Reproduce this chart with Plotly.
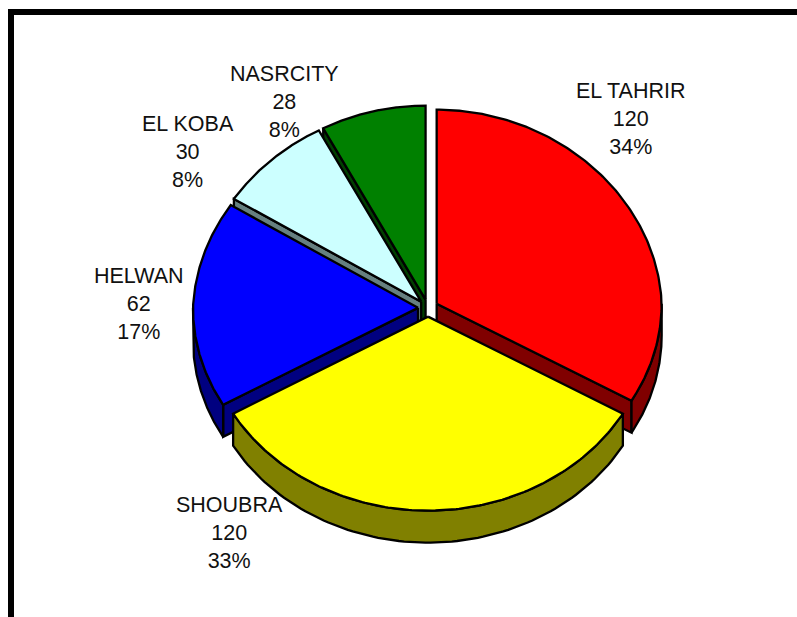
import numpy as np
import plotly.graph_objects as go

categories = ["EL TAHRIR", "SHOUBRA", "HELWAN", "EL KOBA", "NASRCITY"]
values = [120, 120, 62, 30, 28]
percent_labels = ["34%", "33%", "17%", "8%", "8%"]
top_colors = ["#FF0000", "#FFFF00", "#0000FF", "#CCFFFF", "#008000"]
side_colors = ["#800000", "#808000", "#000080", "#668080", "#004000"]
label_x = [631, 229, 138.5, 187.5, 284]
label_y = [119, 533, 304, 152, 102]

# pie geometry, in axis units (the axes span the page 1:1)
CX, CY, RX, RY, DEPTH, PULL, TAPER = 428, 308, 225, 194, 32, 10, 0.035
W, H = 797, 617
FONT = "Liberation Sans, Arial, sans-serif"

total = sum(values)
edges = np.concatenate([[0], np.cumsum(values)]) * 360.0 / total


def rim(cx, cy, deg, drop=0.0):
    r = np.radians(deg)
    # the far side of the tilted disc is drawn slightly narrower
    return cx + RX * np.sin(r) * (1 - TAPER * np.maximum(np.cos(r), 0)), cy - RY * np.cos(r) + drop


def poly(fig, xs, ys, color, name):
    fig.add_trace(go.Scatter(
        x=list(xs), y=list(ys), mode="lines", fill="toself", fillcolor=color,
        line=dict(color="black", width=2.3), name=name, hoverinfo="skip", showlegend=False,
    ))


fig = go.Figure()
for i in [4, 3, 2, 0, 1]:  # back to front
    a0, a1 = edges[i], edges[i + 1]
    mid = np.radians((a0 + a1) / 2)
    cx = CX + PULL * np.sin(mid)
    cy = CY - PULL * RY / RX * np.cos(mid)
    name = categories[i]
    # radial face that looks towards the viewer
    edge = a0 if np.sin(np.radians(a0)) < -1e-9 else (a1 if np.sin(np.radians(a1)) > 1e-9 else None)
    if edge is not None:
        ex, ey = rim(cx, cy, edge)
        poly(fig, [cx, ex, ex, cx, cx], [cy, ey, ey + DEPTH, cy + DEPTH, cy], side_colors[i], name + " face")
    # outer wall
    lo, hi = max(a0, 90), min(a1, 270)
    if hi > lo:
        t = np.linspace(lo, hi, 90)
        x1, y1 = rim(cx, cy, t)
        x2, y2 = rim(cx, cy, t[::-1], DEPTH)
        poly(fig, np.r_[x1, x2, x1[0]], np.r_[y1, y2, y1[0]], side_colors[i], name + " wall")
    # top
    t = np.linspace(a0, a1, 160)
    x, y = rim(cx, cy, t)
    poly(fig, np.r_[cx, x, cx], np.r_[cy, y, cy], top_colors[i], name)

annotations = [
    dict(x=label_x[i], y=label_y[i], xref="x", yref="y", showarrow=False,
         text=f"{categories[i]}<br>{values[i]}<br>{percent_labels[i]}",
         font=dict(family=FONT, size=21.5, color="#111111"), align="center",
         xanchor="center", yanchor="middle")
    for i in range(len(categories))
]

fig.update_layout(
    width=W, height=H, margin=dict(l=0, r=0, t=0, b=0),
    paper_bgcolor="white", plot_bgcolor="white",
    xaxis=dict(range=[0, W], visible=False, fixedrange=True),
    yaxis=dict(range=[H, 0], visible=False, fixedrange=True),
    annotations=annotations, showlegend=False,
    shapes=[
        dict(type="rect", x0=8, x1=W, y0=9, y1=15, fillcolor="black", line_width=0, layer="below"),
        dict(type="rect", x0=8, x1=14, y0=9, y1=H, fillcolor="black", line_width=0, layer="below"),
    ],
)
fig.write_html("out.html", config={"displayModeBar": False},
               post_script="document.body.style.margin='0';document.documentElement.style.overflow='hidden';")
